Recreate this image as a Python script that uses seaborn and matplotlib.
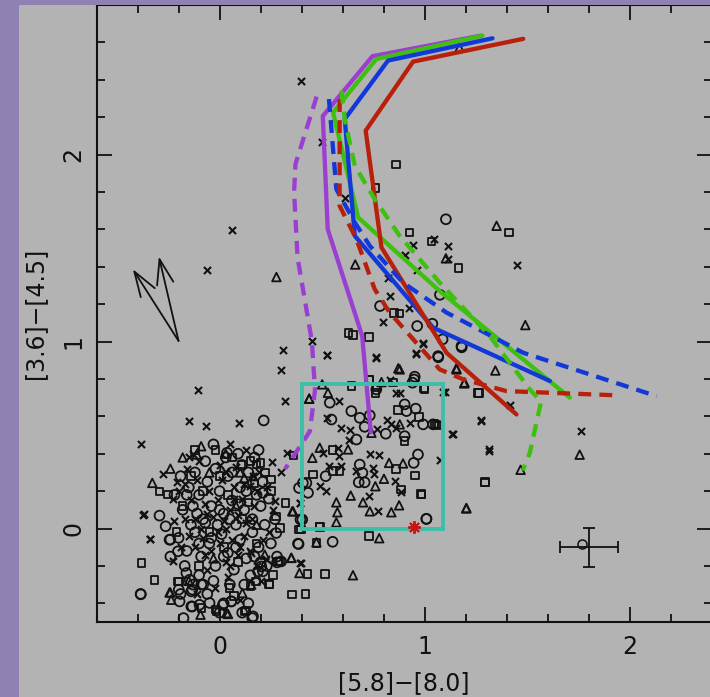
import matplotlib
matplotlib.use("Agg")
import matplotlib.pyplot as plt
from matplotlib.patches import Rectangle
import seaborn as sns
import pandas as pd

# --- sources: open circles ---
circ_x = [1.103, 1.074, 0.782, 1.037, 0.963, 1.087, 1.180, 1.066, 0.948, 0.215, -0.384, 1.008, 0.385, 0.551,
          0.537, 0.545, 0.642, 0.683, 0.732, 0.707, 0.667, 0.810, 0.902, 0.911, 0.956, 0.992, 1.041, 0.902,
          0.967, 0.946, 0.683, 0.696, 0.678, 0.707, 0.517, 0.423, 0.431, 0.387, 0.403, 1.008, 0.764, 0.940,
          0.951, 1.065, 1.179, 0.036, -0.293, -0.263, -0.244, -0.385, -0.195, -0.199, -0.176, -0.162, -0.203,
          0.276, 0.211, 0.382, 0.406, 0.394, 0.211, 0.163, 0.057, -0.049, -0.098, -0.138, -0.133, -0.240,
          -0.138, -0.146, -0.133, -0.089, 0.016, 0.280, 0.203, 0.187, 0.057, 0.159, 0.300,
          -0.18, -0.15, -0.12, -0.10, -0.08, -0.06, -0.04, -0.02, 0.00, 0.02, 0.04, 0.06, 0.08, 0.10, 0.12,
          0.14, 0.16, 0.18, 0.20, -0.20, -0.16, -0.12, -0.09, -0.05, -0.02, 0.01, 0.04, 0.07, 0.10, 0.13,
          0.16, 0.19, 0.22, -0.14, -0.07, 0.03, 0.11, 0.21, 0.24, -0.22, -0.19, -0.03, 0.05, -0.10, 0.15,
          0.25, -0.01, 0.06, -0.11, 0.09, 0.17, -0.17, -0.24, 0.12, -0.06, 0.02, -0.13, 0.20, 0.27, 0.28,
          -0.13, -0.07, 0.00, 0.05, 0.09, 0.13, -0.04, 0.02, 0.08, -0.10, -0.16, 0.17, 0.23, -0.08, 0.00,
          0.14, -0.19, 0.19, -0.03, 0.11]
circ_y = [1.654, 1.250, 1.190, 1.095, 1.083, 1.012, 0.969, 0.916, 0.797, 0.578, -0.352, 0.052, -0.083, -0.071,
          0.673, 0.583, 0.628, 0.592, 0.605, 0.544, 0.476, 0.507, 0.664, 0.628, 0.641, 0.557, 0.557, 0.494,
          0.396, 0.351, 0.342, 0.298, 0.247, 0.247, 0.280, 0.244, 0.191, 0.217, 0.048, 0.051, 0.744, 0.780,
          0.812, 0.922, 0.976, 0.405, 0.069, 0.012, -0.060, -0.350, -0.390, -0.327, -0.479, -0.238, -0.122,
          -0.024, 0.191, -0.081, 0.244, 0.048, -0.229, -0.470, -0.390, -0.398, -0.408, -0.336, -0.417, -0.059,
          -0.417, -0.274, -0.327, -0.300, -0.408, -0.181, -0.203, -0.229, -0.390, -0.479, -0.176,
          0.10, 0.22, 0.30, 0.18, 0.05, 0.25, 0.12, 0.32, 0.20, 0.08, 0.28, 0.15, 0.02, 0.22, 0.10,
          0.30, 0.05, 0.18, 0.12, -0.05, -0.12, -0.02, -0.15, -0.08, -0.20, -0.03, -0.13, -0.22, -0.06, -0.16,
          -0.02, -0.10, 0.02, 0.02, 0.36, 0.38, 0.34, 0.25, 0.16, 0.18, 0.28, -0.28, -0.30, -0.25, -0.25,
          -0.08, 0.02, 0.30, 0.08, 0.40, 0.38, -0.20, -0.15, -0.30, -0.35, -0.40, -0.30, -0.18, 0.05, -0.15,
          0.12, 0.03, 0.10, 0.05, 0.13, 0.20, -0.05, -0.15, -0.10, -0.08, 0.18, -0.15, -0.20, -0.30, -0.45,
          -0.40, -0.35, 0.42, 0.45, -0.45]

# --- sources: crosses ---
cross_x = [0.397, 0.500, 0.060, -0.061, 0.610, 0.904, 0.942, 1.045, 1.111, 1.450, 1.111, 0.963, 0.822, 0.831,
           0.925, 0.798, 0.993, 0.955, 0.761, 0.522, 0.451, 0.308, 0.297, -0.106, 0.319, -0.150, -0.064, 0.093,
           -0.381, 1.413, 1.275, 1.136, 1.313, 1.761, 1.098, -0.370, -0.340, 0.397, 0.330,
           0.525, 0.761, 0.992, 0.956, 0.829, 0.859, 0.881, 1.089, 0.582, 0.525, 0.594, 0.634, 0.631, 0.767,
           0.818, 0.837, 0.859, 0.927, 1.133, 1.311, 1.276, 0.504, 0.582, 0.577, 0.732, 0.777, 0.533, 0.594,
           0.748, 0.751, 0.667, 0.488, 0.517, 0.854, 0.886, 0.728, 0.772, 1.073, 0.390,
           -0.150, -0.276, -0.208, -0.228, -0.374, -0.341, -0.228, 0.257, 0.268, 0.163, 0.394, 0.394, 0.228,
           0.154,
           -0.20, -0.17, -0.14, -0.11, -0.09, -0.07, -0.05, -0.03, -0.01, 0.01, 0.03, 0.05, 0.07, 0.09, 0.11,
           0.13, 0.15, 0.17, 0.19, -0.19, -0.15, -0.12, -0.08, -0.04, 0.00, 0.03, 0.06, 0.09, 0.12, 0.15,
           0.18, -0.10, 0.00, 0.08, 0.23, 0.21, -0.22, -0.06, 0.04, -0.13, 0.05, 0.13, -0.02, 0.10, -0.16,
           0.26, 0.30, 0.24,
           -0.12, -0.06, 0.02, 0.07, 0.12, -0.01, 0.05, 0.10, -0.07, 0.16, -0.17, 0.20, -0.11, 0.03, 0.18]
cross_y = [2.392, 2.066, 1.595, 1.381, 1.769, 1.464, 1.516, 1.547, 1.512, 1.412, 1.440, 1.385, 1.340, 1.243,
           1.178, 1.102, 0.988, 0.935, 0.916, 0.928, 1.005, 0.957, 0.850, 0.743, 0.683, 0.576, 0.547, 0.564,
           0.452, 0.662, 0.576, 0.507, 0.417, 0.524, 0.728, 0.076, -0.055, -0.186, 0.405,
           0.926, 0.914, 0.990, 0.941, 0.797, 0.726, 0.726, 0.729, 0.681, 0.592, 0.539, 0.526, 0.476, 0.533,
           0.583, 0.557, 0.539, 0.566, 0.507, 0.423, 0.578, 0.405, 0.387, 0.432, 0.396, 0.391, 0.333, 0.337,
           0.325, 0.289, 0.306, 0.226, 0.199, 0.253, 0.194, 0.172, 0.092, 0.369, 0.137,
           0.383, 0.289, 0.247, 0.159, 0.074, -0.056, -0.176, 0.355, 0.146, 0.280, 0.137, -0.184, -0.163,
           -0.131,
           0.20, 0.05, 0.15, 0.26, 0.00, 0.13, 0.20, 0.06, 0.15, 0.26, 0.00, 0.10, 0.22, 0.07, 0.16,
           0.03, 0.23, 0.12, 0.30, -0.10, -0.04, -0.10, -0.05, -0.12, -0.08, -0.18, -0.06, -0.14, -0.04, -0.12,
           -0.20, 0.36, 0.34, 0.33, 0.22, -0.06, 0.04, -0.22, -0.26, 0.40, 0.45, 0.42, -0.32, -0.38, 0.32,
           0.10, 0.30, -0.02,
           0.05, 0.08, 0.04, 0.16, 0.24, -0.02, -0.20, -0.10, -0.14, 0.05, 0.24, -0.28, -0.35, 0.30, 0.20]

# --- sources: open squares ---
sq_x = [0.860, 0.760, 0.926, 1.032, 1.412, 1.165, 0.849, 0.876, 0.628, 0.650, 0.727, 0.727, 1.264, 0.999,
        0.760, 1.048, 1.066, 1.295, 0.982, 0.727, 0.487, 0.513, 0.429, 0.473, 0.352, 0.418, 0.241, -0.381,
        -0.318, 0.642, 0.727, 0.764, 0.846, 0.997, 0.870, 0.971, 1.057, 0.550, 0.902, 0.455, 0.553, 0.585,
        0.859, 0.951, 0.883, 0.984, 1.293, 1.260, 0.488, 0.398, 0.361,
        -0.293, -0.252, -0.203, 0.252, 0.322, 0.276, 0.293, 0.179, 0.106, 0.284, 0.387, 0.244, 0.150,
        0.124, 0.049, -0.020, -0.199, -0.089, -0.016, 0.293, 0.176, 0.130,
        -0.14, -0.08, 0.00, 0.06, 0.11, 0.17, 0.20, -0.05, 0.02, 0.09, 0.14, -0.18, -0.10, 0.18, 0.22,
        0.25, -0.12, 0.04, 0.26, 0.07, -0.02, 0.15, -0.21]
sq_y = [1.947, 1.821, 1.583, 1.535, 1.583, 1.393, 1.154, 1.150, 1.047, 1.035, 1.024, 0.797, 0.724, 0.747,
        0.726, 0.559, 0.552, 0.250, 0.183, -0.040, 0.010, -0.243, -0.243, -0.076, -0.352, -0.350, -0.298,
        -0.186, -0.274, 0.762, 0.797, 0.756, 0.780, 0.748, 0.633, 0.598, 0.557, 0.419, 0.467, 0.289, 0.306,
        0.306, 0.319, 0.283, 0.208, 0.181, 0.247, 0.726, 0.009, -0.006, 0.391,
        0.199, 0.181, -0.283, 0.262, 0.137, 0.065, 0.003, 0.342, 0.342, -0.176, -0.006, -0.300, -0.306,
        -0.444, -0.318, -0.434, -0.283, -0.425, -0.444, -0.176, -0.283, -0.438,
        0.28, 0.20, 0.28, 0.38, 0.05, 0.24, 0.35, -0.02, -0.10, -0.18, 0.14, 0.12, -0.20, -0.08, 0.30,
        0.20, 0.42, 0.18, -0.25, -0.36, 0.42, 0.36, -0.02]

# --- sources: open triangles ---
tri_x = [1.169, 1.350, 1.103, 0.661, 0.277, 1.490, 1.154, 1.344, 1.194, 0.871, 0.500, 0.437, 1.755, 1.467,
         1.202, 0.778, 0.650, 0.389, 0.436, 0.528, 0.878, 0.789, 0.488, 0.452, 0.626, 0.826, 0.894, 0.801,
         0.759, 0.639, 0.569, 0.699, 0.875, 0.732, 0.837, 0.574, 0.569, 1.203, 1.155, 1.192, 0.358, 0.878,
         0.740, -0.111, -0.328, 0.163, 0.354, 0.349, 0.111, 0.034, -0.244, -0.236, -0.240, -0.093, 0.472,
         0.350, 0.154, 0.041,
         -0.24, -0.05, 0.12, -0.15, 0.08, 0.18, -0.03, 0.22, 0.03, -0.18, 0.10, -0.09]
tri_y = [2.571, 1.619, 1.445, 1.412, 1.345, 1.088, 0.857, 0.845, 0.781, 0.857, 0.771, 0.695, 0.395, 0.314,
         0.107, -0.052, -0.250, -0.238, 0.694, 0.726, 0.851, 0.783, 0.432, 0.378, 0.423, 0.351, 0.348, 0.266,
         0.226, 0.176, 0.140, 0.140, 0.124, 0.092, 0.087, 0.087, 0.033, 0.110, 0.851, 0.776, 0.092, 0.557,
         0.512, 0.396, 0.244, 0.280, 0.092, -0.157, -0.345, -0.452, -0.342, -0.381, -0.342, -0.461, -0.074,
         -0.157, -0.300, -0.457,
         0.32, 0.30, 0.27, -0.28, 0.12, 0.02, -0.16, -0.14, 0.40, 0.38, 0.30, 0.44]

# --- model tracks ---
purple_x = [1.273, 0.745, 0.503, 0.527, 0.695, 0.737]
purple_y = [2.636, 2.526, 2.206, 1.601, 1.030, 0.515]
green_x = [1.281, 0.764, 0.553, 0.675, 1.073, 1.707]
green_y = [2.636, 2.511, 2.226, 1.664, 1.270, 0.700]
blue_x = [1.330, 0.821, 0.610, 0.659, 1.041, 1.610]
blue_y = [2.622, 2.503, 2.190, 1.565, 1.074, 0.789]
red_x = [1.480, 0.943, 0.712, 0.789, 1.106, 1.447]
red_y = [2.619, 2.497, 2.128, 1.503, 0.940, 0.610]

purple_d_x = [0.473, 0.370, 0.363, 0.380, 0.450, 0.465, 0.440, 0.320]
purple_d_y = [2.310, 1.950, 1.800, 1.450, 1.000, 0.740, 0.520, 0.320]
blue_d_x = [0.533, 0.569, 0.659, 0.732, 0.894, 1.106, 1.480, 2.130]
blue_d_y = [2.297, 1.815, 1.637, 1.512, 1.315, 1.155, 0.940, 0.708]
red_d_x = [0.585, 0.585, 0.667, 0.756, 0.829, 1.073, 1.187, 1.398, 1.943]
red_d_y = [2.297, 1.726, 1.547, 1.280, 1.155, 0.851, 0.798, 0.735, 0.712]
green_d_x = [0.594, 0.610, 0.659, 0.756, 0.878, 1.073, 1.317, 1.512, 1.567, 1.512, 1.478]
green_d_y = [2.342, 2.190, 1.940, 1.762, 1.565, 1.315, 1.029, 0.744, 0.679, 0.405, 0.310]

# selection box, reference star, error bar, reddening vectors
box_x = [0.40, 1.09]
box_y = [0.0, 0.775]
star_xy = (0.948, 0.007)
err_xy = (1.80, -0.10)
err_size = (0.14, 0.105)
err_pt = (1.765, -0.085)
vec_base = (-0.200, 1.003)
vec_tips = [(-0.423, 1.387), (-0.296, 1.455)]

BG = "#b3b3b3"
INK = "#111111"

sns.set_theme(style="ticks")
plt.rcParams["font.family"] = ["DejaVu Sans"]

fig = plt.figure(figsize=(7.10, 6.97), dpi=100, facecolor=BG)
ax = fig.add_axes([96.5 / 710, 75 / 697, 615.5 / 710, 617 / 697])
ax.set_facecolor(BG)

df_c = pd.DataFrame({"x": circ_x, "y": circ_y})
df_x = pd.DataFrame({"x": cross_x, "y": cross_y})
df_s = pd.DataFrame({"x": sq_x, "y": sq_y})
df_t = pd.DataFrame({"x": tri_x, "y": tri_y})

sns.scatterplot(data=df_c, x="x", y="y", ax=ax, marker="o", s=50, facecolor="none",
                edgecolor=INK, linewidth=1.3, zorder=3)
sns.scatterplot(data=df_s, x="x", y="y", ax=ax, marker="s", s=30, facecolor="none",
                edgecolor=INK, linewidth=1.3, zorder=3)
sns.scatterplot(data=df_t, x="x", y="y", ax=ax, marker="^", s=38, facecolor="none",
                edgecolor=INK, linewidth=1.3, zorder=3)
sns.scatterplot(data=df_x, x="x", y="y", ax=ax, marker="x", s=26, color=INK,
                linewidth=1.5, zorder=3)

solid = [(purple_x, purple_y, "#9a3fd0"), (green_x, green_y, "#3fbf10"),
         (blue_x, blue_y, "#1238d8"), (red_x, red_y, "#b8200c")]
dashed = [(purple_d_x, purple_d_y, "#9a3fd0"), (blue_d_x, blue_d_y, "#1238d8"),
          (red_d_x, red_d_y, "#b8200c"), (green_d_x, green_d_y, "#3fbf10")]
for xs, ys, c in solid:
    sns.lineplot(x=xs, y=ys, ax=ax, sort=False, color=c, lw=3.1, zorder=4)
for xs, ys, c in dashed:
    ax.plot(xs, ys, color=c, lw=3.1, ls=(0, (3.0, 1.9)), zorder=4)

ax.add_patch(Rectangle((box_x[0], box_y[0]), box_x[1] - box_x[0], box_y[1] - box_y[0],
                       fill=False, edgecolor="#3cbfa6", lw=2.8, zorder=5))
ax.plot(*star_xy, marker=(8, 2, 0), ms=9, color="#c01818", mew=1.4, zorder=6)

ax.errorbar(*err_xy, xerr=err_size[0], yerr=err_size[1], color=INK, lw=1.3,
            capsize=4, capthick=1.3, zorder=5)
ax.plot(*err_pt, marker="o", ms=6.5, mfc="none", mec=INK, mew=1.1, zorder=5)

for tip in vec_tips:
    ax.annotate("", xy=tip, xytext=vec_base,
                arrowprops=dict(arrowstyle="->,head_length=0.9,head_width=0.3",
                                color=INK, lw=1.3, mutation_scale=20, shrinkA=0, shrinkB=0))

ax.set_xlim(-0.6, 2.4)
ax.set_ylim(-0.5, 2.8)
ax.set_xticks([0, 1, 2])
ax.set_yticks([0, 1, 2])
ax.set_xticks([x / 5 for x in range(-2, 12)], minor=True)
ax.set_yticks([y / 5 for y in range(-2, 14)], minor=True)
ax.tick_params(which="both", direction="in", top=True, right=True, colors=INK, width=1.3)
ax.tick_params(which="major", length=11, labelsize=17)
ax.tick_params(which="minor", length=6)
ax.tick_params(axis="x", pad=9)
ax.tick_params(axis="y", pad=8)
for lab in ax.get_yticklabels():
    lab.set_rotation(90)
    lab.set_va("center")
for sp in ax.spines.values():
    sp.set_color(INK)
    sp.set_linewidth(1.5)

ax.set_xlabel("[5.8]\u2212[8.0]", fontsize=17, color=INK, labelpad=9)
ax.set_ylabel("[3.6]\u2212[4.5]", fontsize=17, color=INK, labelpad=10)

# purple outer frame strips
fig.add_artist(Rectangle((0, 0), 19 / 710, 1, transform=fig.transFigure,
                         facecolor="#8f82b2", edgecolor="none", zorder=10))
fig.add_artist(Rectangle((0, 692 / 697), 1, 5 / 697, transform=fig.transFigure,
                         facecolor="#8f82b2", edgecolor="none", zorder=10))

fig.savefig("out.png", dpi=100, facecolor=BG)
